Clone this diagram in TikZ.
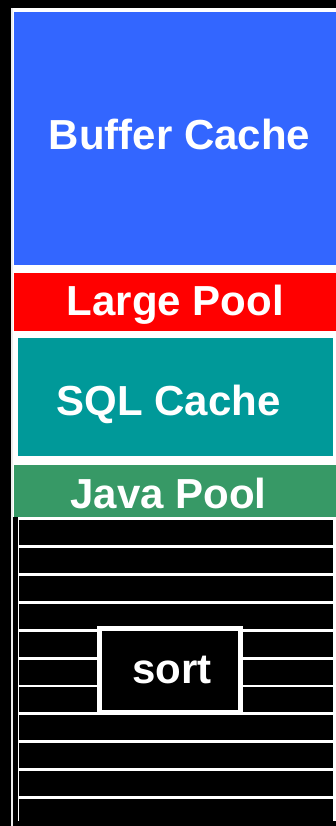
\documentclass[tikz,border=0pt]{standalone}
\usepackage{fontspec}
\setmainfont{Liberation Sans}
\definecolor{bufblue}{HTML}{3366FF}
\definecolor{lpred}{HTML}{FF0000}
\definecolor{sqlteal}{HTML}{009999}
\definecolor{javagreen}{HTML}{379966}
\begin{document}
\begin{tikzpicture}[x=1pt,y=-1pt,
  lbl/.style={text=white,font=\fontsize{42}{42}\selectfont\bfseries,inner sep=0pt,anchor=base},
  block/.style={inner sep=0pt,outer sep=0pt,anchor=north west,draw=none},
  stripe/.style={block,fill=black,minimum width=314pt,minimum height=25pt}]
\useasboundingbox (0,0) rectangle (336,826);
\fill[black] (0,0) rectangle (336,826);
% frame
\node[block,fill=white!85!gray,minimum width=2.5pt,minimum height=818pt] (frameline) at (10.5,8) {};
\node[block,fill=white,minimum width=323pt,minimum height=509pt] (backdrop) at (13,8) {};
% blocks
\node[block,fill=bufblue,minimum width=322pt,minimum height=253pt] (buffer) at (14,12) {};
\node[block,fill=lpred,minimum width=322pt,minimum height=58pt] (large) at (14,273) {};
\node[block,fill=sqlteal,minimum width=315pt,minimum height=118pt] (sql) at (18,338) {};
\node[block,fill=javagreen,minimum width=322pt,minimum height=52pt] (java) at (14,465) {};
% sort area
\node[block,fill=white,minimum width=318pt,minimum height=306pt] (sortarea) at (18,517) {};
\foreach \k in {0,...,10}{
  \node[stripe] (s\k) at (19,{520+27.9*\k}) {};
}
\node[block,fill=black,minimum width=318pt,minimum height=5pt] (bottomcut) at (18,821) {};
\node[draw=white,line width=5pt,fill=black,minimum width=141pt,minimum height=84pt,inner sep=0pt] (sortbox) at (170,670.5) {};
% labels
\node[lbl] (tbuf) at (179.5,150) {Buffer Cache};
\node[lbl] (tlarge) at (175.5,315) {Large Pool};
\node[lbl] (tsql) at (168.5,415) {SQL Cache};
\node[lbl] (tjava) at (168.5,508) {Java Pool};
\node[lbl] (tsort) at (172,683) {sort};
\end{tikzpicture}
\end{document}
